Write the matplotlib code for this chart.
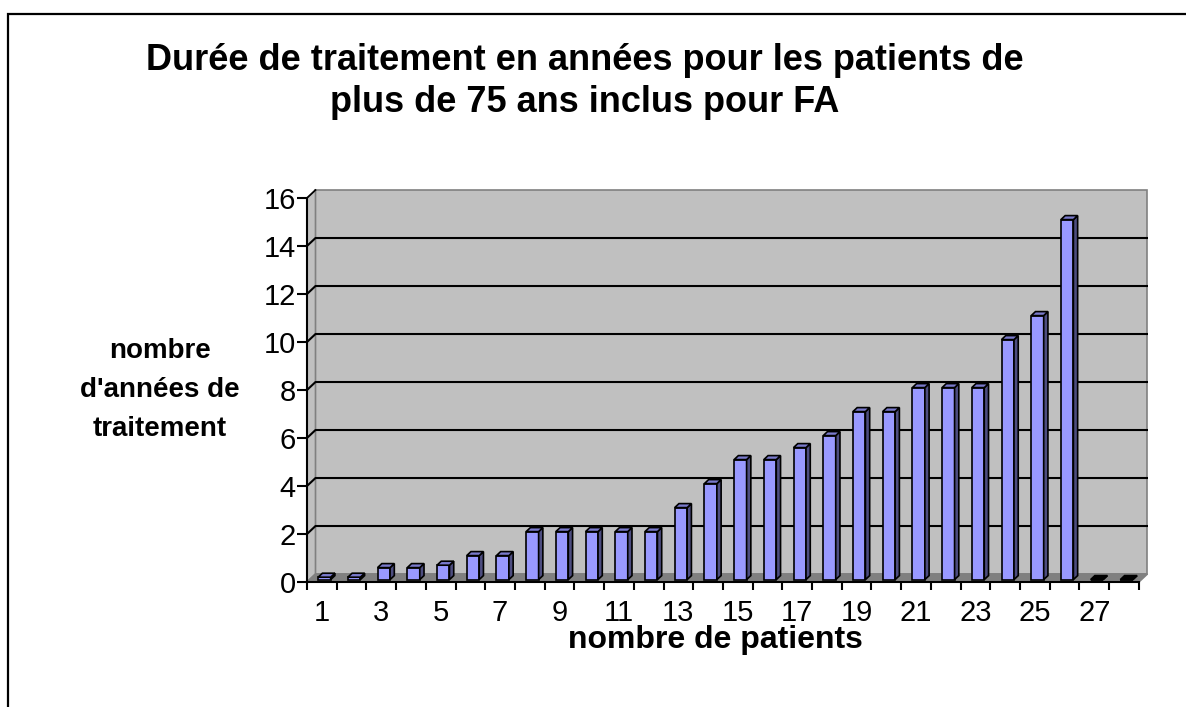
import numpy as np
import matplotlib.pyplot as plt
from matplotlib.patches import Polygon, Rectangle

plt.rcParams['font.family'] = ['Liberation Sans', 'DejaVu Sans']

# data
patients = np.arange(1, 29)
annees = [0.1, 0.1, 0.5, 0.5, 0.6, 1, 1, 2, 2, 2, 2, 2, 3, 4, 5, 5, 5.5,
          6, 7, 7, 8, 8, 8, 10, 11, 15, 0, 0]
y_ticks = [0, 2, 4, 6, 8, 10, 12, 14, 16]
x_tick_labels = [1, 3, 5, 7, 9, 11, 13, 15, 17, 19, 21, 23, 25, 27]

title = "Durée de traitement en années pour les patients de\nplus de 75 ans inclus pour FA"
ylab = "nombre\nd'années de\ntraitement"
xlab = "nombre de patients"

# 3d look: depth offset of the back wall in data units
dx, dy = 0.286, 0.333
t0, t1 = 0.3, 0.8      # bar front/back as fraction of depth
bw = 0.42

wall_c = '#C0C0C0'
floor_c = '#808080'
front_c = '#9999FF'
side_c = '#4D4D80'
top_c = '#7A7ACC'

fig = plt.figure(figsize=(11.86, 7.07), dpi=100)
ax = fig.add_axes([307 / 1186, (707 - 582) / 707, 840.8 / 1186, 393.6 / 707])
ax.set_xlim(0.5, 28.8)
ax.set_ylim(0, 16.4)
ax.set_facecolor('none')

x0, x1 = 0.5, 28.5
top = 16

# back wall
ax.add_patch(Rectangle((x0 + dx, dy), x1 - x0, top, facecolor=wall_c,
                       edgecolor='#808080', lw=1.2, zorder=0))
# side wall
ax.add_patch(Polygon([(x0, 0), (x0 + dx, dy), (x0 + dx, top + dy), (x0, top)],
                     closed=True, facecolor=wall_c, edgecolor='#808080', lw=1.2, zorder=0))
# floor
ax.add_patch(Polygon([(x0, 0), (x1, 0), (x1 + dx, dy), (x0 + dx, dy)],
                     closed=True, facecolor=floor_c, edgecolor='#808080', lw=1.2, zorder=1))
# gridlines
for v in y_ticks[1:-1]:
    ax.plot([x0, x0 + dx, x1 + dx], [v, v + dy, v + dy], color='black', lw=1.5, zorder=1)
ax.plot([x0, x0 + dx], [top, top + dy], color='black', lw=1.2, zorder=1)

# bars: front faces
xf = patients - bw / 2 + t0 * dx
ax.bar(patients + t0 * dx, annees, width=bw, bottom=t0 * dy, color=front_c,
       edgecolor='black', linewidth=1.2, zorder=3)
ddx, ddy = (t1 - t0) * dx, (t1 - t0) * dy
for xl, v in zip(xf, annees):
    b = t0 * dy
    xr = xl + bw
    # side face
    ax.add_patch(Polygon([(xr, b), (xr + ddx, b + ddy), (xr + ddx, b + v + ddy), (xr, b + v)],
                         closed=True, facecolor=side_c, edgecolor='black', lw=1.2, zorder=3))
    # top face
    tc = top_c if v > 0 else 'black'
    ax.add_patch(Polygon([(xl, b + v), (xr, b + v), (xr + ddx, b + v + ddy), (xl + ddx, b + v + ddy)],
                         closed=True, facecolor=tc, edgecolor='black', lw=1.2, zorder=3))

# axes
for s in ['top', 'right']:
    ax.spines[s].set_visible(False)
ax.spines['left'].set_bounds(0, top)
ax.spines['bottom'].set_bounds(x0, x1)
ax.spines['left'].set_linewidth(1.5)
ax.spines['bottom'].set_linewidth(1.5)
ax.spines['left'].set_zorder(4)
ax.spines['bottom'].set_zorder(4)

ax.set_yticks(y_ticks)
ax.set_yticklabels([str(v) for v in y_ticks], fontsize=21)
ax.tick_params(axis='y', length=7, width=1.5, pad=1)

ax.set_xticks(x_tick_labels)
ax.set_xticklabels([str(v) for v in x_tick_labels], fontsize=21)
ax.set_xticks(np.arange(0.5, 29, 1), minor=True)
ax.tick_params(axis='x', which='major', length=0, pad=12)
ax.tick_params(axis='x', which='minor', length=6, width=1.5)

fig.text(585 / 1186, 1 - 112 / 707, title, ha='center', va='baseline',
         fontsize=26, fontweight='bold', linespacing=1.25)
fig.text(160 / 1186, 1 - 436 / 707, ylab, ha='center', va='baseline',
         fontsize=20, fontweight='bold', linespacing=1.65)
fig.text(715 / 1186, 1 - 648 / 707, xlab, ha='center', va='baseline',
         fontsize=23, fontweight='bold')

# outer frame (only left and top edges fall inside the picture)
fig.patches.append(Rectangle((8 / 1186, -0.2), 1.5, 1.2 - 14 / 707, transform=fig.transFigure,
                             fill=False, edgecolor='black', lw=1.6))

fig.savefig('out.png', dpi=100, facecolor='white')
